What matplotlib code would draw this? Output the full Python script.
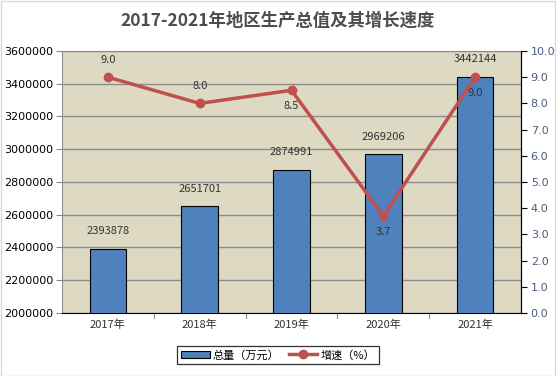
import matplotlib
matplotlib.use("Agg")
import matplotlib.pyplot as plt
from matplotlib.patches import Rectangle

plt.rcParams['font.family'] = ['Noto Sans CJK SC', 'DejaVu Sans']

years = ['2017年', '2018年', '2019年', '2020年', '2021年']
totals = [2393878, 2651701, 2874991, 2969206, 3442144]
growth = [9.0, 8.0, 8.5, 3.7, 9.0]
growth_pos = ['above', 'above', 'below', 'below', 'below']

fig = plt.figure(figsize=(5.56, 3.76), dpi=100)
fig.patch.set_facecolor('white')
fig.add_artist(Rectangle((0.001, 0.001), 0.997, 0.997, transform=fig.transFigure,
                         fill=False, edgecolor='#d9d9d9', linewidth=1))

ax = fig.add_axes([62/556, 1 - 313/376, (521-62)/556, (313-51)/376])
ax.set_facecolor('#ddd9c3')
x = range(len(years))
bars = ax.bar(x, totals, width=0.4, color='#4f81bd', edgecolor='black', linewidth=0.8,
              zorder=3, label='总量（万元）')
ax.set_ylim(2000000, 3600000)
ax.set_yticks(range(2000000, 3600001, 200000))
ax.set_yticklabels([str(v) for v in range(2000000, 3600001, 200000)], fontsize=8, color='black',
                   family=['DejaVu Sans'])
ax.set_xlim(-0.5, 4.5)
ax.set_xticks(x)
ax.set_xticklabels(years, fontsize=8, color='#333333')
ax.grid(axis='y', color='#8c8c8c', linewidth=1, zorder=0)
ax.spines['top'].set_color('#8c8c8c')
ax.spines['left'].set_color('#8c8c8c')
ax.spines['bottom'].set_color('black')
ax.tick_params(axis='y', length=4, color='#8c8c8c', pad=2)
ax.tick_params(axis='x', length=0, pad=5)
for i, v in enumerate(totals):
    ax.annotate(str(v), (i, v), xytext=(0, 9), textcoords='offset points',
                ha='center', va='bottom', fontsize=8, color='#333333', zorder=6)
for xb in [0.5, 1.5, 2.5, 3.5]:
    ax.plot([xb, xb], [0, -0.02], transform=ax.get_xaxis_transform(), color='#8c8c8c',
            linewidth=0.8, clip_on=False)

ax2 = ax.twinx()
ax2.plot(x, growth, color='#c0504d', linewidth=2.5, marker='o', markersize=6, zorder=5,
         label='增速（%）')
ax2.set_ylim(0, 10)
ax2.set_yticks(range(0, 11))
ax2.set_yticklabels([f'{v:.1f}' for v in range(0, 11)], fontsize=8, color='#4a5a85',
                    family=['DejaVu Sans'])
ax2.spines['right'].set_color('black')
ax2.spines['top'].set_visible(False)
ax2.spines['left'].set_visible(False)
ax2.spines['bottom'].set_visible(False)
ax2.tick_params(axis='y', length=4, color='black', pad=3)
for i, (v, p) in enumerate(zip(growth, growth_pos)):
    off = 9 if p == 'above' else -8
    ax2.annotate(f'{v:.1f}', (i, v), xytext=(0, off), textcoords='offset points',
                 ha='center', va='bottom' if p == 'above' else 'top', fontsize=8, color='#333333')

fig.suptitle('2017-2021年地区生产总值及其增长速度', x=0.5, y=0.97, fontsize=12.5,
             fontweight='bold', color='#4d4d4d')

h1, l1 = ax.get_legend_handles_labels()
h2, l2 = ax2.get_legend_handles_labels()
leg = fig.legend(h1 + h2, l1 + l2, loc='center', bbox_to_anchor=(0.5, 1 - 355/376), ncol=2,
                 fontsize=8, frameon=True, fancybox=False, edgecolor='black',
                 handlelength=2.6, columnspacing=0.8, handletextpad=0.3,
                 borderpad=0.3)
leg.get_frame().set_linewidth(0.9)

fig.savefig('out.png', dpi=100)
